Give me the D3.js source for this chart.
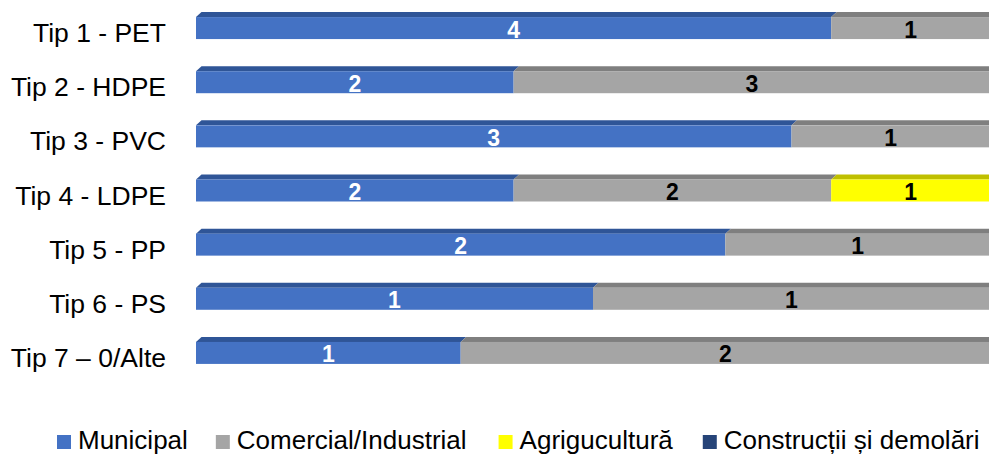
<!DOCTYPE html>
<html>
<head>
<meta charset="utf-8">
<script src="https://cdn.jsdelivr.net/npm/d3@7"></script>
<style>
  html, body { margin: 0; padding: 0; background: #fff; }
  svg { display: block; font-family: "Liberation Sans", Arial, sans-serif; }
</style>
</head>
<body>
<svg id="chart" width="989" height="455"></svg>
<script>
const categories = ["Tip 1 - PET", "Tip 2 - HDPE", "Tip 3 - PVC", "Tip 4 - LDPE", "Tip 5 - PP", "Tip 6 - PS", "Tip 7 – 0/Alte"];
const seriesNames = ["Municipal", "Comercial/Industrial", "Agrigucultură", "Construcții și demolări"];
const municipal   = [4, 2, 3, 2, 2, 1, 1];
const comercial   = [1, 3, 1, 2, 1, 1, 2];
const agricultura = [0, 0, 0, 1, 0, 0, 0];
const constructii = [0, 0, 0, 0, 0, 0, 0];

const frontColors = ["#4472c4", "#a5a5a5", "#ffff00", "#264478"];
const topColors   = ["#2f5597", "#7f7f7f", "#bfbf00", "#1a2f54"];
const labelColors = ["#ffffff", "#000000", "#000000", "#ffffff"];

const keys = ["m", "c", "a", "k"];
const rows = categories.map((cat, i) => ({
  cat, m: municipal[i], c: comercial[i], a: agricultura[i], k: constructii[i]
}));
const stacked = d3.stack().keys(keys).offset(d3.stackOffsetExpand)(rows);

const svg = d3.select("#chart");
const x = d3.scaleLinear().domain([0, 1]).range([196, 990]);
const y = d3.scaleBand().domain(categories).range([1, 380]).paddingInner(0.594).paddingOuter(0.297);
const dx = 5.5, dy = 5;

const g = svg.append("g");
stacked.forEach((layer, si) => {
  layer.forEach((d, i) => {
    const v = rows[i][keys[si]];
    if (!v) return;
    const x0 = x(d[0]), x1 = x(d[1]);
    const yt = y(categories[i]);
    const h = y.bandwidth();
    g.append("path")
      .attr("d", `M${x0},${yt}L${x0 + dx},${yt - dy}L${x1 + dx},${yt - dy}L${x1},${yt}Z`)
      .attr("fill", topColors[si]);
    g.append("rect")
      .attr("x", x0).attr("y", yt).attr("width", x1 - x0).attr("height", h)
      .attr("fill", frontColors[si]);
  });
});
stacked.forEach((layer, si) => {
  layer.forEach((d, i) => {
    const v = rows[i][keys[si]];
    if (!v) return;
    const x0 = x(d[0]), x1 = x(d[1]);
    const yt = y(categories[i]);
    g.append("text")
      .attr("x", (x0 + x1) / 2)
      .attr("y", yt + 20.5)
      .attr("text-anchor", "middle")
      .attr("font-size", 23)
      .attr("font-weight", "bold")
      .attr("fill", labelColors[si])
      .text(v);
  });
});

// category labels
const labels = svg.append("g");
categories.forEach(cat => {
  labels.append("text")
    .attr("x", 166)
    .attr("y", y(cat) + 25)
    .attr("text-anchor", "end")
    .attr("font-size", 26.5)
    .attr("fill", "#000")
    .text(cat);
});

// legend
const legend = svg.append("g");
let lx = 57;
const gaps = [28, 32, 30, 0];
seriesNames.forEach((name, i) => {
  legend.append("rect").attr("x", lx).attr("y", 435).attr("width", 14).attr("height", 14).attr("fill", frontColors[i]);
  const t = legend.append("text").attr("x", lx + 21).attr("y", 449)
    .attr("font-size", 26).attr("fill", "#000").text(name);
  const w = t.node().getComputedTextLength();
  lx = lx + 21 + w + gaps[i];
});
</script>
</body>
</html>
